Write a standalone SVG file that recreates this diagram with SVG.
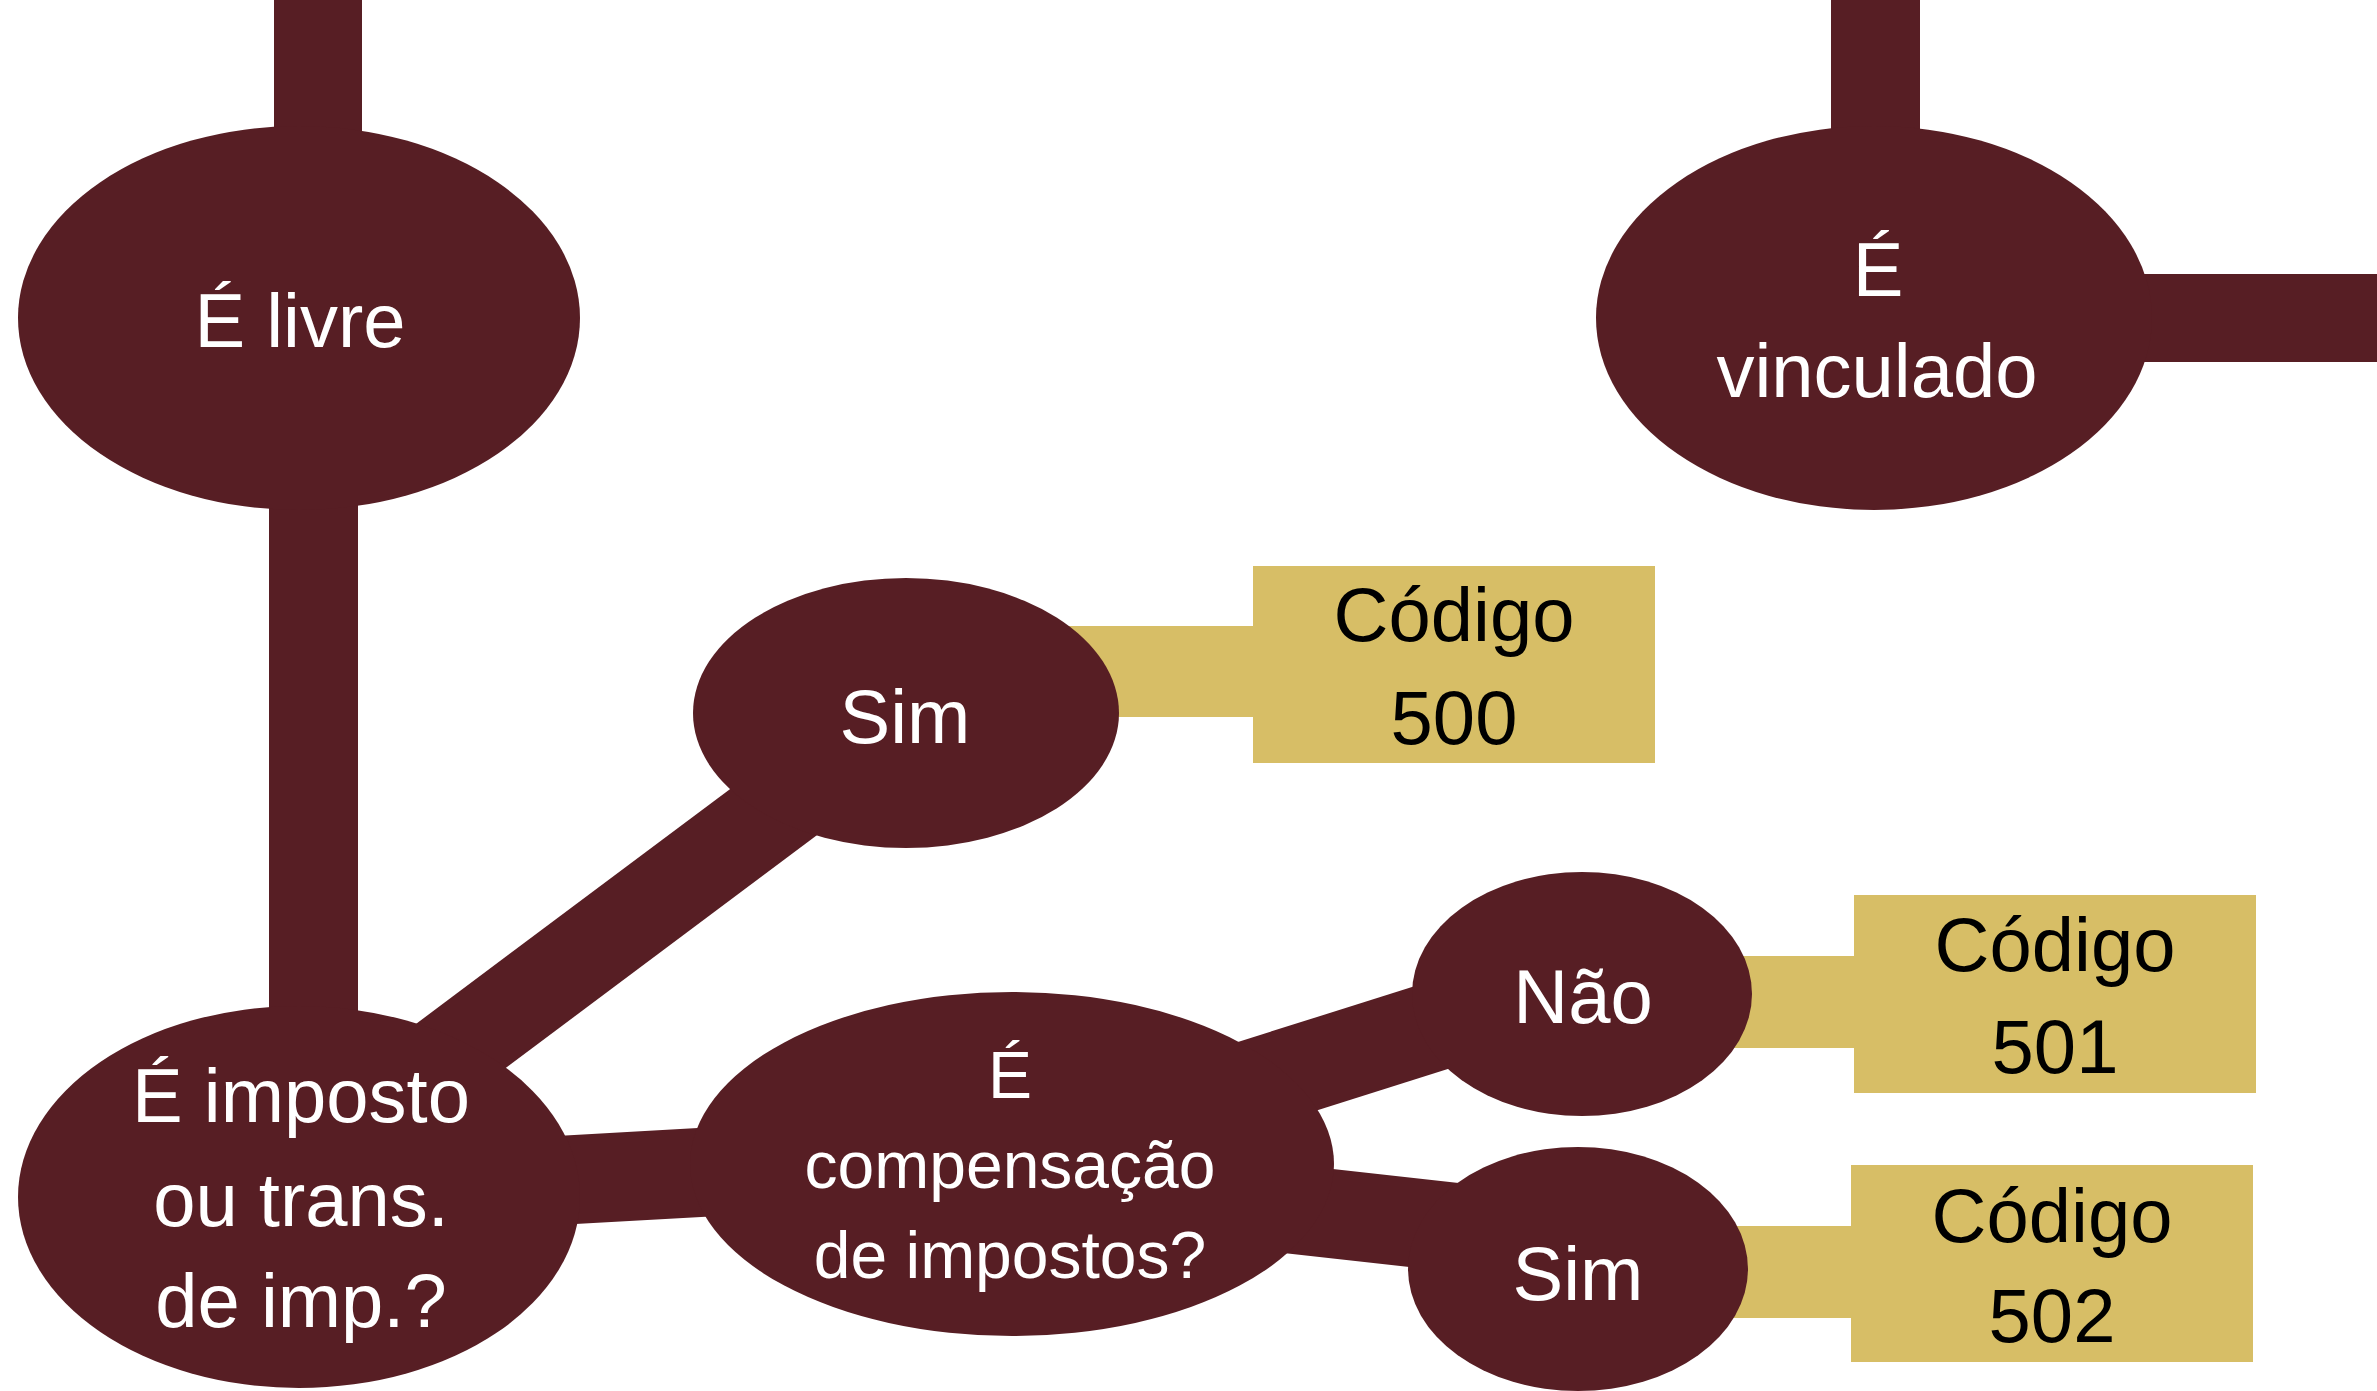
<svg xmlns="http://www.w3.org/2000/svg" width="2377" height="1391" viewBox="0 0 2377 1391">
<style>
.m{fill:#571E24}
.g{fill:#D7BE66}
.ln{stroke:#571E24;stroke-width:89;fill:none}
.tw{fill:#FFFFFF;font-family:"Liberation Sans",Arial,sans-serif;font-size:76px;text-anchor:middle}
.tc{font-size:66px}
.tb{fill:#000000;font-family:"Liberation Sans",Arial,sans-serif;font-size:76px;text-anchor:middle}
</style>
<rect width="2377" height="1391" fill="#FFFFFF"/>
<g id="connectors">
<rect class="m" x="274" y="0" width="88" height="200"/>
<rect class="m" x="1831" y="0" width="89" height="200"/>
<rect class="m" x="1874" y="274" width="503" height="88"/>
<rect class="m" x="269" y="400" width="89" height="700"/>
<line class="ln" x1="299" y1="1167" x2="906" y2="713"/>
<line class="ln" x1="299" y1="1195" x2="1012" y2="1155"/>
<line class="ln" x1="1012" y1="1160" x2="1582" y2="980"/>
<line class="ln" x1="1012" y1="1178" x2="1578" y2="1241"/>
<rect class="g" x="1050" y="626" width="205" height="91"/>
<rect class="g" x="1650" y="956" width="206" height="92"/>
<rect class="g" x="1650" y="1226" width="203" height="92"/>
</g>
<g id="n-livre">
<ellipse class="m" cx="299" cy="318" rx="281" ry="192"/>
<text class="tw" x="300" y="347">É livre</text>
</g>
<g id="n-vinculado">
<ellipse class="m" cx="1874" cy="318" rx="278" ry="192"/>
<text class="tw" x="1878" y="296">É</text>
<text class="tw" x="1877" y="397">vinculado</text>
</g>
<g id="n-imposto">
<ellipse class="m" cx="299" cy="1197" rx="281" ry="191"/>
<text class="tw" x="301" y="1122">É imposto</text>
<text class="tw" x="301" y="1226">ou trans.</text>
<text class="tw" x="301" y="1327">de imp.?</text>
</g>
<g id="n-sim1">
<ellipse class="m" cx="906" cy="713" rx="213" ry="135"/>
<text class="tw" x="905" y="743">Sim</text>
</g>
<g id="n-comp">
<ellipse class="m" cx="1012" cy="1164" rx="322" ry="172"/>
<text class="tw tc" x="1010" y="1098">É</text>
<text class="tw tc" x="1010" y="1188">compensação</text>
<text class="tw tc" x="1010" y="1278">de impostos?</text>
</g>
<g id="n-nao">
<ellipse class="m" cx="1582" cy="994" rx="170" ry="122"/>
<text class="tw" x="1583" y="1023">Não</text>
</g>
<g id="n-sim2">
<ellipse class="m" cx="1578" cy="1269" rx="170" ry="122"/>
<text class="tw" x="1578" y="1300">Sim</text>
</g>
<g id="n-500">
<rect class="g" x="1253" y="566" width="402" height="197"/>
<text class="tb" x="1454" y="641">Código</text>
<text class="tb" x="1454" y="744">500</text>
</g>
<g id="n-501">
<rect class="g" x="1854" y="895" width="402" height="198"/>
<text class="tb" x="2055" y="971">Código</text>
<text class="tb" x="2055" y="1073">501</text>
</g>
<g id="n-502">
<rect class="g" x="1851" y="1165" width="402" height="197"/>
<text class="tb" x="2052" y="1242">Código</text>
<text class="tb" x="2052" y="1342">502</text>
</g>
</svg>
